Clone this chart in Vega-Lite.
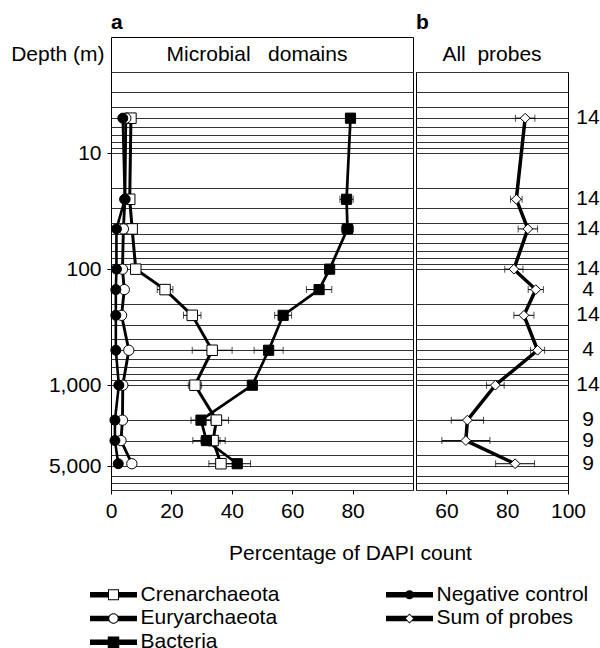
{
  "$schema": "https://vega.github.io/schema/vega-lite/v6.json",
  "background": "white",
  "padding": {"left": 10, "top": 11, "right": 0, "bottom": 0},
  "config": {
    "font": "Liberation Sans",
    "view": {"stroke": "black", "strokeWidth": 1},
    "axis": {"labelFontSize": 21, "labelColor": "black", "titleFontSize": 21, "titleFontWeight": "normal", "titleColor": "black", "tickColor": "black", "domain": false, "labelFlush": false, "labelOverlap": false},
    "text": {"fontSize": 21, "color": "black"},
    "title": {"fontSize": 21, "fontWeight": "bold", "color": "black", "anchor": "start", "frame": "group", "offset": 4}
  },
  "datasets": {
    "a": [
      {"series": "Crenarchaeota", "depth": 5, "v": 6.6, "e": 1.2},
      {"series": "Crenarchaeota", "depth": 25, "v": 6.2, "e": 1.2},
      {"series": "Crenarchaeota", "depth": 45, "v": 7.0, "e": 1.2},
      {"series": "Crenarchaeota", "depth": 100, "v": 8.2, "e": 1.0},
      {"series": "Crenarchaeota", "depth": 150, "v": 17.9, "e": 2.6},
      {"series": "Crenarchaeota", "depth": 250, "v": 26.9, "e": 2.9},
      {"series": "Crenarchaeota", "depth": 500, "v": 33.5, "e": 6.6},
      {"series": "Crenarchaeota", "depth": 1000, "v": 27.8, "e": 2.2},
      {"series": "Crenarchaeota", "depth": 2000, "v": 34.9, "e": 4.0},
      {"series": "Crenarchaeota", "depth": 3000, "v": 33.8, "e": 4.0},
      {"series": "Crenarchaeota", "depth": 4750, "v": 36.4, "e": 4.0},
      {"series": "Euryarchaeota", "depth": 5, "v": 4.9, "e": 0},
      {"series": "Euryarchaeota", "depth": 25, "v": 4.6, "e": 0},
      {"series": "Euryarchaeota", "depth": 45, "v": 4.1, "e": 0},
      {"series": "Euryarchaeota", "depth": 100, "v": 3.8, "e": 0},
      {"series": "Euryarchaeota", "depth": 150, "v": 4.4, "e": 0},
      {"series": "Euryarchaeota", "depth": 250, "v": 3.5, "e": 0},
      {"series": "Euryarchaeota", "depth": 500, "v": 5.9, "e": 0},
      {"series": "Euryarchaeota", "depth": 1000, "v": 3.9, "e": 0},
      {"series": "Euryarchaeota", "depth": 2000, "v": 3.8, "e": 0},
      {"series": "Euryarchaeota", "depth": 3000, "v": 3.3, "e": 0},
      {"series": "Euryarchaeota", "depth": 4750, "v": 6.9, "e": 0},
      {"series": "Bacteria", "depth": 5, "v": 79.3, "e": 0.8},
      {"series": "Bacteria", "depth": 25, "v": 78.0, "e": 2.2},
      {"series": "Bacteria", "depth": 45, "v": 78.3, "e": 2.0},
      {"series": "Bacteria", "depth": 100, "v": 72.4, "e": 0.8},
      {"series": "Bacteria", "depth": 150, "v": 68.9, "e": 4.2},
      {"series": "Bacteria", "depth": 250, "v": 57.0, "e": 2.8},
      {"series": "Bacteria", "depth": 500, "v": 52.2, "e": 4.8},
      {"series": "Bacteria", "depth": 1000, "v": 46.8, "e": 1.0},
      {"series": "Bacteria", "depth": 2000, "v": 29.8, "e": 3.3},
      {"series": "Bacteria", "depth": 3000, "v": 31.6, "e": 4.5},
      {"series": "Bacteria", "depth": 4750, "v": 41.8, "e": 4.4},
      {"series": "Negative control", "depth": 5, "v": 3.9, "e": 0},
      {"series": "Negative control", "depth": 25, "v": 4.6, "e": 0},
      {"series": "Negative control", "depth": 45, "v": 1.8, "e": 0},
      {"series": "Negative control", "depth": 100, "v": 1.8, "e": 0},
      {"series": "Negative control", "depth": 150, "v": 1.6, "e": 0},
      {"series": "Negative control", "depth": 250, "v": 1.6, "e": 0},
      {"series": "Negative control", "depth": 500, "v": 1.6, "e": 0},
      {"series": "Negative control", "depth": 1000, "v": 2.6, "e": 0},
      {"series": "Negative control", "depth": 2000, "v": 1.3, "e": 0},
      {"series": "Negative control", "depth": 3000, "v": 1.3, "e": 0},
      {"series": "Negative control", "depth": 4750, "v": 2.4, "e": 0}
    ],
    "b": [
      {"series": "Sum of probes", "depth": 5, "v": 85.9, "e": 3.2, "n": "14"},
      {"series": "Sum of probes", "depth": 25, "v": 83.0, "e": 1.9, "n": "14"},
      {"series": "Sum of probes", "depth": 45, "v": 86.8, "e": 3.2, "n": "14"},
      {"series": "Sum of probes", "depth": 100, "v": 82.2, "e": 3.0, "n": "14"},
      {"series": "Sum of probes", "depth": 150, "v": 89.4, "e": 2.5, "n": "4"},
      {"series": "Sum of probes", "depth": 250, "v": 85.5, "e": 3.3, "n": "14"},
      {"series": "Sum of probes", "depth": 500, "v": 90.0, "e": 2.3, "n": "4"},
      {"series": "Sum of probes", "depth": 1000, "v": 76.1, "e": 2.9, "n": "14"},
      {"series": "Sum of probes", "depth": 2000, "v": 66.9, "e": 5.3, "n": "9"},
      {"series": "Sum of probes", "depth": 3000, "v": 66.4, "e": 7.9, "n": "9"},
      {"series": "Sum of probes", "depth": 4750, "v": 82.6, "e": 6.4, "n": "9"}
    ]
  },
  "columns": 2,
  "bounds": "flush",
  "spacing": {"row": 0, "column": 3},
  "concat": [
    {
      "width": 302,
      "height": 35,
      "data": {"values": [{"h": "Depth (m)", "t": "Microbial\u00a0\u00a0 domains"}]},
      "title": {"text": "a"},
      "mark": {"type": "text", "fontSize": 21, "dx": -5},
      "encoding": {
        "y": {"field": "h", "type": "nominal", "axis": {"title": null, "ticks": false, "labelPadding": 7, "labelFontSize": 21}},
        "text": {"field": "t"}
      }
    },
    {
      "width": 152,
      "height": 35,
      "data": {"values": [{"t": "All\u00a0 probes"}]},
      "title": {"text": "b"},
      "mark": {"type": "text", "fontSize": 21},
      "encoding": {"text": {"field": "t"}}
    },
    {
      "width": 302,
      "height": 418,
      "data": {"name": "a"},
      "encoding": {
        "x": {"field": "v", "type": "quantitative", "scale": {"domain": [0, 100], "nice": false, "zero": false},
          "axis": {"values": [0, 20, 40, 60, 80], "tickSize": 4, "labelPadding": 6, "grid": false, "title": "Percentage of DAPI count", "titleX": 239, "titleY": 63, "titleAlign": "center", "titleBaseline": "middle"}},
        "y": {"field": "depth", "type": "quantitative", "scale": {"type": "log", "domain": [2, 8000], "reverse": true, "nice": false},
          "axis": {"values": [2, 3, 4, 5, 6, 7, 8, 9, 10, 20, 30, 40, 50, 60, 70, 80, 90, 100, 200, 300, 400, 500, 600, 700, 800, 900, 1000, 2000, 3000, 4000, 5000, 6000, 7000, 8000],
            "grid": true, "gridColor": "#333333", "gridWidth": 1, "gridOpacity": 1, "tickSize": 4, "labelPadding": 6, "title": null,
            "tickOpacity": {"condition": {"test": "indexof([10,100,1000,5000], datum.value) >= 0", "value": 1}, "value": 0},
            "labelExpr": "indexof([10,100,1000,5000], datum.value) >= 0 ? format(datum.value, ',') : ''"}}
      },
      "resolve": {"scale": {"shape": "independent", "fill": "independent", "size": "independent"}},
      "layer": [
        {
          "mark": {"type": "line", "color": "black"},
          "encoding": {
            "detail": {"field": "series"},
            "strokeWidth": {"field": "series", "type": "ordinal", "scale": {"domain": ["Crenarchaeota", "Euryarchaeota", "Bacteria", "Negative control"], "range": [3, 2.6, 4.5, 1.3]}, "legend": null},
            "order": {"field": "depth", "type": "quantitative"}
          }
        },
        {
          "transform": [{"filter": "datum.e > 0"}],
          "mark": {"type": "errorbar", "color": "black", "thickness": 1, "ticks": {"size": 7}},
          "encoding": {"xError": {"field": "e"}}
        },
        {
          "mark": {"type": "point", "filled": true, "stroke": "black", "strokeWidth": 1, "opacity": 1},
          "encoding": {
            "shape": {"field": "series", "type": "nominal", "scale": {"domain": ["Crenarchaeota", "Euryarchaeota", "Bacteria", "Negative control"], "range": ["square", "circle", "square", "circle"]}, "legend": null},
            "fill": {"field": "series", "type": "nominal", "scale": {"domain": ["Crenarchaeota", "Euryarchaeota", "Bacteria", "Negative control"], "range": ["white", "white", "black", "black"]}, "legend": null},
            "size": {"field": "series", "type": "ordinal", "scale": {"domain": ["Crenarchaeota", "Euryarchaeota", "Bacteria", "Negative control"], "range": [110, 100, 128, 18]}, "legend": null}
          }
        },
        {
          "transform": [{"filter": "false"}],
          "mark": {"type": "point", "filled": true, "color": "black", "size": 100, "opacity": 1},
          "encoding": {
            "shape": {"field": "series", "type": "nominal",
              "scale": {"domain": ["Crenarchaeota", "Euryarchaeota", "Bacteria", "Negative control", "Sum of probes"],
                "range": [
                  "M-4.7,-0.55H-1.1V0.55H-4.7Z M1.1,-0.55H4.7V0.55H1.1Z M-1.1,-1.1H1.1V1.1H-1.1Z M-0.9,-0.9V0.9H0.9V-0.9Z",
                  "M-4.7,-0.55H-0.95V0.55H-4.7Z M0.95,-0.55H4.7V0.55H0.95Z M-1.05,0A1.05,1.05 0 1 1 1.05,0A1.05,1.05 0 1 1 -1.05,0Z M-0.85,0A0.85,0.85 0 1 0 0.85,0A0.85,0.85 0 1 0 -0.85,0Z",
                  "M-4.7,-0.55H4.7V0.55H-4.7Z M-1.15,-1.15H1.15V1.15H-1.15Z",
                  "M-4.7,-0.55H4.7V0.55H-4.7Z M-0.9,0A0.9,0.9 0 1 1 0.9,0A0.9,0.9 0 1 1 -0.9,0Z",
                  "M-4.7,-0.55H-0.45L-1,0L-0.45,0.55H-4.7Z M0.45,-0.55H4.7V0.55H0.45L1,0Z M0,-1L1,0L0,1L-1,0Z M0,-0.75L-0.75,0L0,0.75L0.75,0Z"
                ]},
              "legend": {"title": null, "orient": "none", "legendX": -8, "legendY": 512, "columns": 2, "columnPadding": 103, "rowPadding": 1.9, "padding": 0,
                "symbolSize": 100, "labelOffset": 16.5, "labelFontSize": 21, "labelColor": "black", "labelLimit": 400,
                "encode": {"symbols": {"update": {"fill": {"value": "black"}, "fillOpacity": {"value": 1}, "stroke": {"value": "transparent"}, "strokeWidth": {"value": 0}, "opacity": {"value": 1}}}}}
            }
          }
        }
      ]
    },
    {
      "width": 152,
      "height": 418,
      "data": {"name": "b"},
      "encoding": {
        "x": {"field": "v", "type": "quantitative", "scale": {"domain": [50, 100], "nice": false, "zero": false},
          "axis": {"values": [60, 80, 100], "tickSize": 4, "labelPadding": 6, "grid": false, "title": null}},
        "y": {"field": "depth", "type": "quantitative", "scale": {"type": "log", "domain": [2, 8000], "reverse": true, "nice": false},
          "axis": {"values": [2, 3, 4, 5, 6, 7, 8, 9, 10, 20, 30, 40, 50, 60, 70, 80, 90, 100, 200, 300, 400, 500, 600, 700, 800, 900, 1000, 2000, 3000, 4000, 5000, 6000, 7000, 8000],
            "grid": true, "gridColor": "#333333", "gridWidth": 1, "gridOpacity": 1, "labels": false, "ticks": false, "title": null}}
      },
      "layer": [
        {
          "mark": {"type": "line", "color": "black", "strokeWidth": 3.5},
          "encoding": {"order": {"field": "depth", "type": "quantitative"}}
        },
        {
          "mark": {"type": "errorbar", "color": "black", "thickness": 1, "ticks": {"size": 7}},
          "encoding": {"xError": {"field": "e"}}
        },
        {
          "mark": {"type": "point", "shape": "diamond", "filled": true, "fill": "white", "stroke": "black", "strokeWidth": 1, "size": 95, "opacity": 1}
        },
        {
          "mark": {"type": "text", "dx": 20, "align": "center", "baseline": "middle", "fontSize": 21},
          "encoding": {"x": {"datum": 100, "type": "quantitative"}, "text": {"field": "n"}}
        }
      ]
    }
  ]
}
